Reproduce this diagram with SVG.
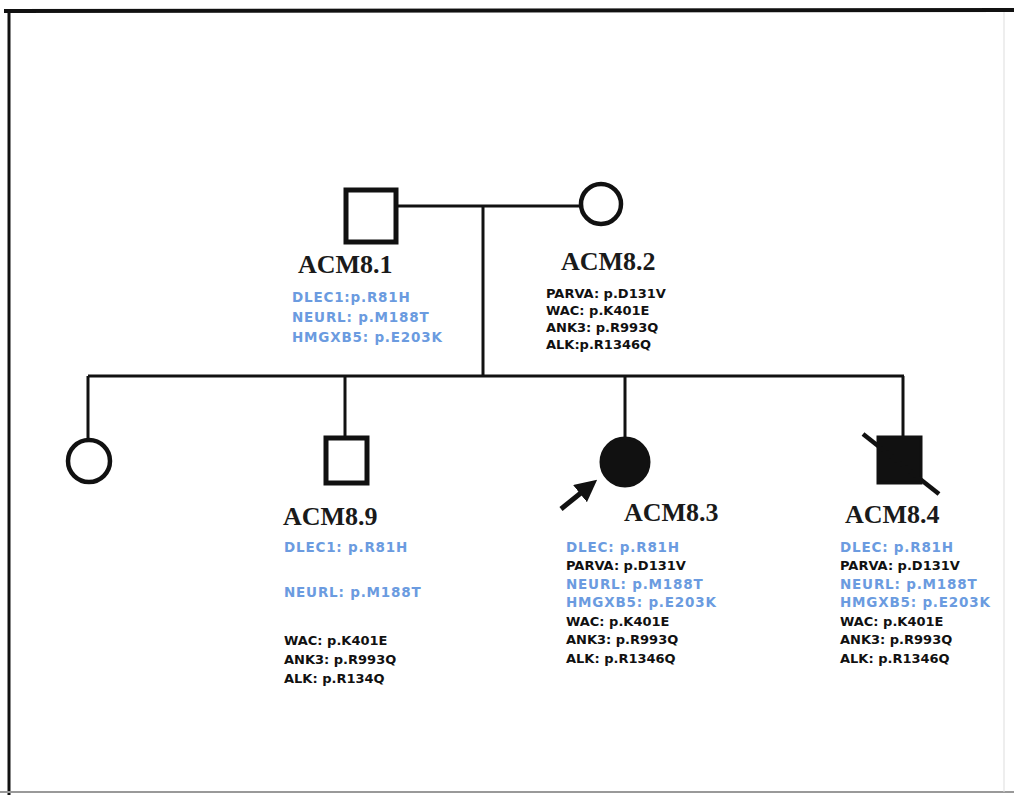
<svg xmlns="http://www.w3.org/2000/svg" width="1014" height="795" viewBox="0 0 1014 795">
<defs>
<style>
.line{stroke:#111;stroke-width:3;fill:none}
.sq{stroke:#111;stroke-width:5;fill:#fff}
.ci{stroke:#111;stroke-width:4.5;fill:#fff}
.aff{fill:#111;stroke:#111;stroke-width:3}
.lab{font-family:"Liberation Serif","Times New Roman",serif;font-weight:bold;font-size:26px;fill:#1a1a1a}
.g{font-family:"DejaVu Sans",Verdana,sans-serif;font-weight:bold;font-size:13px}
.b{fill:#6b9be0;font-size:13.5px;letter-spacing:0.8px}
.k{fill:#111}
</style>
<marker id="ah" viewBox="0 0 10 10" refX="7" refY="5" markerWidth="4.4" markerHeight="4.4" orient="auto" markerUnits="strokeWidth">
<path d="M0,0 L10,5 L0,10 Z" fill="#111"/>
</marker>
</defs>
<rect x="0" y="0" width="1014" height="795" fill="#fff"/>
<g id="frame">
<line x1="4" y1="11" x2="1014" y2="10" stroke="#111" stroke-width="4"/>
<line x1="9" y1="9" x2="9" y2="795" stroke="#111" stroke-width="3"/>
<line x1="0" y1="792" x2="1014" y2="792" stroke="#999" stroke-width="2"/>
<line x1="1004" y1="12" x2="1004" y2="792" stroke="#ddd" stroke-width="1"/>
</g>
<g id="connectors">
<path class="line" d="M397,206 L580,206"/>
<path class="line" d="M483,206 L483,376"/>
<path class="line" d="M88,376 L904,376"/>
<path class="line" d="M88,376 L88,438"/>
<path class="line" d="M345,376 L345,437"/>
<path class="line" d="M625,376 L625,438"/>
<path class="line" d="M903,376 L903,437"/>
</g>
<g id="ACM8.1">
<rect class="sq" x="346" y="190" width="50" height="52"/>
<text class="lab" x="298" y="273">ACM8.1</text>
<text class="g b" x="292" y="302">DLEC1:p.R81H</text>
<text class="g b" x="292" y="322">NEURL: p.M188T</text>
<text class="g b" x="292" y="342">HMGXB5: p.E203K</text>
</g>
<g id="ACM8.2">
<circle class="ci" cx="601" cy="204" r="20"/>
<text class="lab" x="561" y="270">ACM8.2</text>
<text class="g k" x="546" y="298">PARVA: p.D131V</text>
<text class="g k" x="546" y="315">WAC: p.K401E</text>
<text class="g k" x="546" y="332">ANK3: p.R993Q</text>
<text class="g k" x="546" y="349">ALK:p.R1346Q</text>
</g>
<g id="child1">
<circle class="ci" cx="89" cy="461" r="21"/>
</g>
<g id="ACM8.9">
<rect class="sq" x="326" y="438" width="41" height="45"/>
<text class="lab" x="283" y="525">ACM8.9</text>
<text class="g b" x="284" y="552">DLEC1: p.R81H</text>
<text class="g b" x="284" y="597">NEURL: p.M188T</text>
<text class="g k" x="284" y="645">WAC: p.K401E</text>
<text class="g k" x="284" y="664">ANK3: p.R993Q</text>
<text class="g k" x="284" y="683">ALK: p.R134Q</text>
</g>
<g id="ACM8.3">
<circle class="aff" cx="625" cy="462" r="24"/>
<line x1="561" y1="509" x2="592" y2="484" stroke="#111" stroke-width="5" marker-end="url(#ah)"/>
<text class="lab" x="624" y="521">ACM8.3</text>
<text class="g b" x="566" y="552">DLEC: p.R81H</text>
<text class="g k" x="566" y="570">PARVA: p.D131V</text>
<text class="g b" x="566" y="589">NEURL: p.M188T</text>
<text class="g b" x="566" y="607">HMGXB5: p.E203K</text>
<text class="g k" x="566" y="626">WAC: p.K401E</text>
<text class="g k" x="566" y="644">ANK3: p.R993Q</text>
<text class="g k" x="566" y="663">ALK: p.R1346Q</text>
</g>
<g id="ACM8.4">
<rect class="aff" x="878" y="437" width="43" height="46"/>
<line x1="863" y1="434" x2="939" y2="494" stroke="#111" stroke-width="4.5"/>
<text class="lab" x="845" y="523">ACM8.4</text>
<text class="g b" x="840" y="552">DLEC: p.R81H</text>
<text class="g k" x="840" y="570">PARVA: p.D131V</text>
<text class="g b" x="840" y="589">NEURL: p.M188T</text>
<text class="g b" x="840" y="607">HMGXB5: p.E203K</text>
<text class="g k" x="840" y="626">WAC: p.K401E</text>
<text class="g k" x="840" y="644">ANK3: p.R993Q</text>
<text class="g k" x="840" y="663">ALK: p.R1346Q</text>
</g>
</svg>
